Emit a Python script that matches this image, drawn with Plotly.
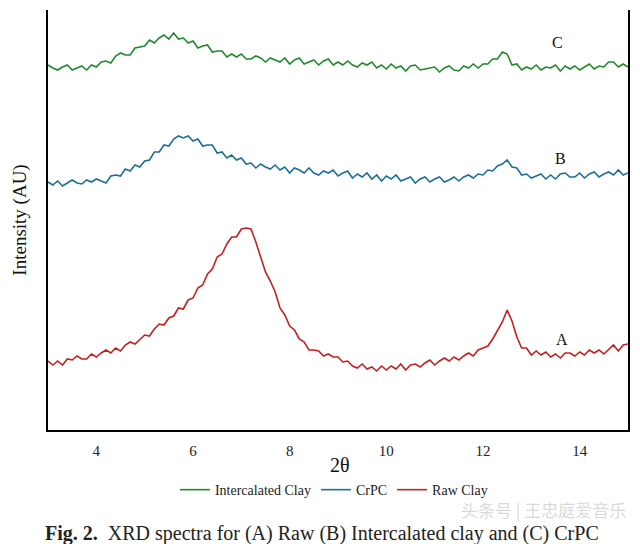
import plotly.graph_objects as go

# 2-theta sampling positions (degrees)
TWO_THETA = [
    3.0, 3.1, 3.2, 3.3, 3.4, 3.5, 3.6, 3.7, 3.8, 3.9,
    4.0, 4.1, 4.2, 4.3, 4.4, 4.5, 4.6, 4.7, 4.8, 4.9,
    5.0, 5.1, 5.2, 5.3, 5.4, 5.5, 5.6, 5.7, 5.8, 5.9,
    6.0, 6.1, 6.2, 6.3, 6.4, 6.5, 6.6, 6.7, 6.8, 6.9,
    7.0, 7.1, 7.2, 7.3, 7.4, 7.5, 7.6, 7.7, 7.8, 7.9,
    8.0, 8.1, 8.2, 8.3, 8.4, 8.5, 8.6, 8.7, 8.8, 8.9,
    9.0, 9.1, 9.2, 9.3, 9.4, 9.5, 9.6, 9.7, 9.8, 9.9,
    10.0, 10.1, 10.2, 10.3, 10.4, 10.5, 10.6, 10.7, 10.8, 10.9,
    11.0, 11.1, 11.2, 11.3, 11.4, 11.5, 11.6, 11.7, 11.8, 11.9,
    12.0, 12.1, 12.2, 12.3, 12.4, 12.5, 12.6, 12.7, 12.8, 12.9,
    13.0, 13.1, 13.2, 13.3, 13.4, 13.5, 13.6, 13.7, 13.8, 13.9,
    14.0, 14.1, 14.2, 14.3, 14.4, 14.5, 14.6, 14.7, 14.8, 14.9,
    15.0,
]

# Intercalated Clay (C), offset trace
INTERCALATED = [
    365, 362, 360, 363, 365, 360, 362, 364, 360, 365,
    363, 368, 369, 367, 374, 377, 375, 375, 382, 383,
    384, 390, 387, 392, 395, 391, 397, 391, 392, 387,
    389, 382, 384, 385, 378, 379, 379, 373, 376, 373,
    376, 371, 371, 374, 372, 368, 372, 370, 368, 372,
    366, 370, 372, 366, 368, 370, 365, 369, 371, 365,
    368, 365, 369, 365, 363, 367, 365, 368, 362, 365,
    361, 366, 362, 364, 359, 364, 365, 360, 361, 362,
    363, 358, 362, 364, 360, 359, 364, 362, 366, 362,
    366, 366, 371, 371, 378, 376, 365, 366, 360, 363,
    361, 365, 360, 363, 362, 365, 359, 364, 361, 364,
    360, 363, 366, 361, 364, 363, 368, 368, 363, 366,
    363,
]

# CrPC (B), offset trace
CRPC = [
    248, 245, 249, 244, 247, 250, 247, 246, 250, 248,
    251, 249, 247, 254, 255, 254, 261, 259, 265, 263,
    269, 270, 278, 278, 285, 284, 291, 294, 292, 294,
    289, 291, 284, 285, 285, 277, 278, 272, 275, 270,
    272, 266, 267, 262, 266, 263, 261, 265, 260, 263,
    257, 262, 260, 257, 262, 257, 255, 259, 257, 260,
    254, 257, 259, 252, 256, 253, 257, 251, 255, 249,
    254, 251, 255, 249, 251, 253, 247, 251, 253, 248,
    251, 253, 248, 250, 253, 249, 253, 255, 252, 256,
    255, 260, 259, 264, 266, 270, 263, 262, 255, 256,
    252, 254, 256, 251, 255, 251, 256, 257, 253, 253,
    257, 252, 256, 258, 253, 256, 258, 255, 260, 255,
    257,
]

# Raw Clay (A)
RAW = [
    69, 65, 69, 65, 71, 70, 74, 71, 71, 76,
    73, 77, 80, 77, 82, 79, 85, 88, 86, 91,
    95, 94, 101, 106, 105, 112, 114, 122, 121, 130,
    132, 142, 145, 156, 161, 173, 176, 186, 193, 193,
    201, 202, 201, 188, 174, 158, 149, 138, 122, 115,
    104, 100, 91, 88, 80, 80, 79, 74, 76, 73,
    73, 68, 69, 64, 62, 66, 61, 63, 59, 64,
    60, 64, 61, 66, 60, 65, 66, 63, 67, 70,
    65, 69, 72, 69, 73, 70, 74, 77, 74, 80,
    82, 84, 91, 99, 108, 120, 109, 93, 82, 82,
    75, 79, 75, 78, 73, 76, 72, 77, 77, 74,
    78, 75, 80, 77, 80, 76, 81, 85, 79, 85,
    86,
]

SERIES_NAMES = ["Intercalated Clay", "CrPC", "Raw Clay"]
SERIES_COLORS = ["#1f8a2a", "#1b6f98", "#c61f1f"]
TICK_VALUES = [4, 6, 8, 10, 12, 14]
CURVE_LABELS = ["C", "B", "A"]
LABEL_X = [13.55, 13.61, 13.63]
LABEL_Y = [388, 272, 91]

SERIF = "Liberation Serif, Times New Roman, serif"

fig = go.Figure()
for name, ys, col in zip(SERIES_NAMES, [INTERCALATED, CRPC, RAW], SERIES_COLORS):
    fig.add_trace(go.Scatter(
        x=TWO_THETA, y=ys, mode="lines", name=name,
        line=dict(color=col, width=1.6),
    ))

for lab, lx, ly in zip(CURVE_LABELS, LABEL_X, LABEL_Y):
    fig.add_annotation(x=lx, y=ly, text=lab, showarrow=False,
                       font=dict(family=SERIF, size=16, color="#111"))

# x-axis title
fig.add_annotation(xref="paper", yref="paper", x=0.503, y=-0.083,
                   text="2θ", showarrow=False, xanchor="center", yanchor="middle",
                   font=dict(family=SERIF, size=20, color="#111"))

# caption
fig.add_annotation(xref="paper", yref="paper", x=-0.009, y=-0.247,
                   text="<b>Fig. 2.</b>  XRD spectra for (A) Raw (B) Intercalated clay and (C) CrPC",
                   showarrow=False, xanchor="left", yanchor="middle",
                   font=dict(family=SERIF, size=20, color="#222"))

# watermark
fig.add_annotation(xref="paper", yref="paper", x=1.0, y=-0.19,
                   text="头条号 | 王忠庭爱音乐", showarrow=False,
                   xanchor="right", yanchor="middle",
                   font=dict(family="Noto Sans CJK SC", size=17,
                             color="rgba(170,170,170,0.45)"))

fig.update_layout(
    width=640, height=544,
    margin=dict(l=48, r=12, t=10, b=114),
    paper_bgcolor="white", plot_bgcolor="white",
    showlegend=True,
    legend=dict(orientation="h", x=0.493, y=-0.143, xanchor="center", yanchor="middle",
                font=dict(family=SERIF, size=14, color="#222"),
                itemwidth=30, tracegroupgap=0, bgcolor="rgba(0,0,0,0)"),
    xaxis=dict(range=[3, 15], tickvals=TICK_VALUES, showgrid=False, zeroline=False,
               showline=True, linecolor="black", linewidth=2, mirror=False,
               ticks="outside", ticklen=6, tickcolor="rgba(0,0,0,0)",
               tickfont=dict(family=SERIF, size=15, color="#222")),
    yaxis=dict(range=[0, 420], showticklabels=False, showgrid=False, zeroline=False,
               showline=True, linecolor="black", linewidth=2, mirror=True,
               ticks="",
               title=dict(text="Intensity (AU)", standoff=14,
                          font=dict(family=SERIF, size=19, color="#111"))),
)

fig.write_html("out.html")
